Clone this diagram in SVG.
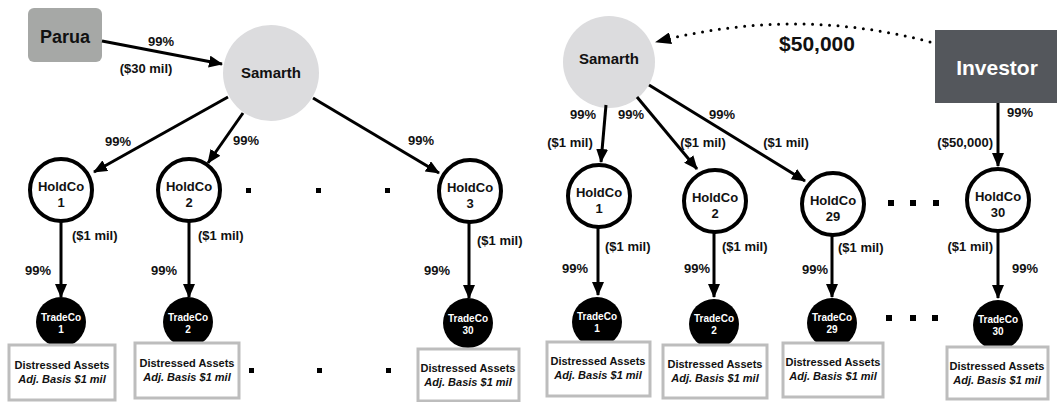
<svg xmlns="http://www.w3.org/2000/svg" width="1057" height="402" viewBox="0 0 1057 402">
  <defs>
    <marker id="arrow" markerUnits="userSpaceOnUse" markerWidth="14" markerHeight="12" viewBox="0 0 14 12" refX="13" refY="6" orient="auto">
      <path d="M0,0 L14,6 L0,12 Z" fill="#000"/>
    </marker>
    <marker id="arrowDot" markerUnits="userSpaceOnUse" markerWidth="16" markerHeight="12" viewBox="0 0 16 12" refX="15" refY="6" orient="auto">
      <path d="M0,0 L16,6 L0,12 Z" fill="#000"/>
    </marker>
  </defs>
  <style>
    text { font-family: "Liberation Sans", Arial, sans-serif; font-weight: bold; fill: #111; }
    .lbl { font-size: 13px; }
    .mid { text-anchor: middle; }
    .end { text-anchor: end; }
    .hold circle { fill: #fff; stroke: #000; stroke-width: 4; }
    .hold text { font-size: 13px; text-anchor: middle; }
    .trade circle { fill: #000; }
    .trade text { font-size: 10px; text-anchor: middle; fill: #fff; }
    .asset rect { fill: #fff; stroke: #bdbdbd; stroke-width: 3; }
    .asset text { font-size: 11px; text-anchor: middle; }
    .asset .it { font-style: italic; }
    .samarth circle { fill: #dcdcde; }
    .samarth text { font-size: 15px; text-anchor: middle; }
    .conn path { stroke: #000; stroke-width: 3; fill: none; marker-end: url(#arrow); }
    .conn path.dotted { stroke-width: 3; stroke-dasharray: 0 8.5; stroke-linecap: round; marker-end: url(#arrowDot); }
    .ellipsis rect { fill: #000; }
  </style>

  <!-- ===== Left structure ===== -->
  <g id="parua">
    <rect x="28" y="8" width="74" height="54" rx="6" fill="#a6a8a6"/>
    <text x="65" y="43" class="mid" style="font-size:18px">Parua</text>
  </g>
  <g id="samarth-left" class="samarth">
    <circle cx="271" cy="73" r="48"/>
    <text x="271" y="78">Samarth</text>
  </g>

  <g id="holdco-l1" class="hold"><circle cx="61" cy="190" r="31"/><text x="61" y="191">HoldCo</text><text x="61" y="207">1</text></g>
  <g id="holdco-l2" class="hold"><circle cx="189" cy="190" r="31"/><text x="189" y="191">HoldCo</text><text x="189" y="207">2</text></g>
  <g id="holdco-l3" class="hold"><circle cx="470" cy="191" r="31"/><text x="470" y="192">HoldCo</text><text x="470" y="208">3</text></g>

  <g id="tradeco-l1" class="trade"><circle cx="61" cy="322" r="25"/><text x="61" y="321">TradeCo</text><text x="61" y="333">1</text></g>
  <g id="tradeco-l2" class="trade"><circle cx="188" cy="322" r="25"/><text x="188" y="321">TradeCo</text><text x="188" y="333">2</text></g>
  <g id="tradeco-l30" class="trade"><circle cx="468" cy="323" r="25"/><text x="468" y="322">TradeCo</text><text x="468" y="334">30</text></g>

  <g id="assets-l1" class="asset"><rect x="9" y="345" width="106" height="55"/><text x="62" y="369">Distressed Assets</text><text x="62" y="383" class="it">Adj. Basis $1 mil</text></g>
  <g id="assets-l2" class="asset"><rect x="135" y="343" width="104" height="55"/><text x="187" y="367">Distressed Assets</text><text x="187" y="381" class="it">Adj. Basis $1 mil</text></g>
  <g id="assets-l30" class="asset"><rect x="418" y="349" width="101" height="52"/><text x="468" y="372">Distressed Assets</text><text x="468" y="386" class="it">Adj. Basis $1 mil</text></g>

  <g id="ellipsis-left" class="ellipsis">
    <rect x="246" y="188" width="5" height="5"/><rect x="316" y="188" width="5" height="5"/><rect x="385" y="188" width="5" height="5"/>
    <rect x="249" y="368" width="5" height="5"/><rect x="317" y="368" width="5" height="5"/><rect x="386" y="368" width="5" height="5"/>
  </g>

  <!-- ===== Right structure ===== -->
  <g id="samarth-right" class="samarth">
    <circle cx="609" cy="62" r="46"/>
    <text x="609" y="64">Samarth</text>
  </g>
  <g id="investor">
    <rect x="935" y="30" width="125" height="73" fill="#54575c"/>
    <text x="997" y="75" class="mid" style="font-size:21px;fill:#fff">Investor</text>
  </g>

  <g id="holdco-r1" class="hold"><circle cx="599" cy="196" r="31"/><text x="599" y="197">HoldCo</text><text x="599" y="213">1</text></g>
  <g id="holdco-r2" class="hold"><circle cx="715" cy="201" r="31"/><text x="715" y="202">HoldCo</text><text x="715" y="218">2</text></g>
  <g id="holdco-r29" class="hold"><circle cx="833" cy="204" r="31"/><text x="833" y="205">HoldCo</text><text x="833" y="221">29</text></g>
  <g id="holdco-r30" class="hold"><circle cx="998" cy="200" r="31"/><text x="998" y="201">HoldCo</text><text x="998" y="217">30</text></g>

  <g id="tradeco-r1" class="trade"><circle cx="597" cy="322" r="25"/><text x="597" y="320">TradeCo</text><text x="597" y="332">1</text></g>
  <g id="tradeco-r2" class="trade"><circle cx="714" cy="324" r="25"/><text x="714" y="322">TradeCo</text><text x="714" y="334">2</text></g>
  <g id="tradeco-r29" class="trade"><circle cx="832" cy="323" r="25"/><text x="832" y="321">TradeCo</text><text x="832" y="333">29</text></g>
  <g id="tradeco-r30" class="trade"><circle cx="998" cy="325" r="25"/><text x="998" y="323">TradeCo</text><text x="998" y="335">30</text></g>

  <g id="assets-r1" class="asset"><rect x="547" y="342" width="103" height="54"/><text x="598" y="365">Distressed Assets</text><text x="598" y="379" class="it">Adj. Basis $1 mil</text></g>
  <g id="assets-r2" class="asset"><rect x="663" y="345" width="104" height="53"/><text x="715" y="368">Distressed Assets</text><text x="715" y="382" class="it">Adj. Basis $1 mil</text></g>
  <g id="assets-r29" class="asset"><rect x="783" y="343" width="100" height="54"/><text x="833" y="366">Distressed Assets</text><text x="833" y="380" class="it">Adj. Basis $1 mil</text></g>
  <g id="assets-r30" class="asset"><rect x="947" y="347" width="101" height="52"/><text x="997" y="370">Distressed Assets</text><text x="997" y="384" class="it">Adj. Basis $1 mil</text></g>

  <g id="ellipsis-right" class="ellipsis">
    <rect x="888" y="200" width="6" height="6"/><rect x="910" y="200" width="6" height="6"/><rect x="933" y="200" width="6" height="6"/>
    <rect x="886" y="315" width="6" height="6"/><rect x="910" y="315" width="6" height="6"/><rect x="932" y="315" width="6" height="6"/>
  </g>

  <!-- ===== Connectors ===== -->
  <g id="connectors" class="conn">
    <path d="M102,41 L222,64"/>
    <path d="M228,97 L94,172"/>
    <path d="M243,113 L208,163"/>
    <path d="M313,98 L439,173"/>
    <path d="M61,222 L61,297"/>
    <path d="M189,222 L189,297"/>
    <path d="M469,223 L469,298"/>

    <path class="dotted" d="M930,42 Q795,6 656,42"/>
    <path d="M606,105 L601,162"/>
    <path d="M637,97 L697,169"/>
    <path d="M649,85 L805,181"/>
    <path d="M998,103 L998,166"/>
    <path d="M598,228 L598,295"/>
    <path d="M714,233 L714,297"/>
    <path d="M832,236 L832,297"/>
    <path d="M998,232 L998,298"/>
  </g>

  <!-- ===== Connector labels ===== -->
  <g id="labels" class="lbl">
    <text x="161" y="46" class="mid">99%</text>
    <text x="146" y="73" class="mid">($30 mil)</text>
    <text x="118" y="146" class="mid">99%</text>
    <text x="246" y="145" class="mid">99%</text>
    <text x="421" y="145" class="mid">99%</text>
    <text x="72" y="240">($1 mil)</text>
    <text x="198" y="240">($1 mil)</text>
    <text x="477" y="245">($1 mil)</text>
    <text x="38" y="275" class="mid">99%</text>
    <text x="164" y="275" class="mid">99%</text>
    <text x="437" y="275" class="mid">99%</text>

    <text x="817" y="51" class="mid" style="font-size:21px">$50,000</text>
    <text x="583" y="119" class="mid">99%</text>
    <text x="631" y="119" class="mid">99%</text>
    <text x="722" y="119" class="mid">99%</text>
    <text x="1020" y="117" class="mid">99%</text>
    <text x="570" y="147" class="mid">($1 mil)</text>
    <text x="703" y="147" class="mid">($1 mil)</text>
    <text x="786" y="147" class="mid">($1 mil)</text>
    <text x="993" y="147" class="end">($50,000)</text>
    <text x="605" y="251">($1 mil)</text>
    <text x="722" y="251">($1 mil)</text>
    <text x="838" y="252">($1 mil)</text>
    <text x="993" y="251" class="end">($1 mil)</text>
    <text x="575" y="273" class="mid">99%</text>
    <text x="697" y="273" class="mid">99%</text>
    <text x="815" y="274" class="mid">99%</text>
    <text x="1025" y="273" class="mid">99%</text>
  </g>
</svg>
